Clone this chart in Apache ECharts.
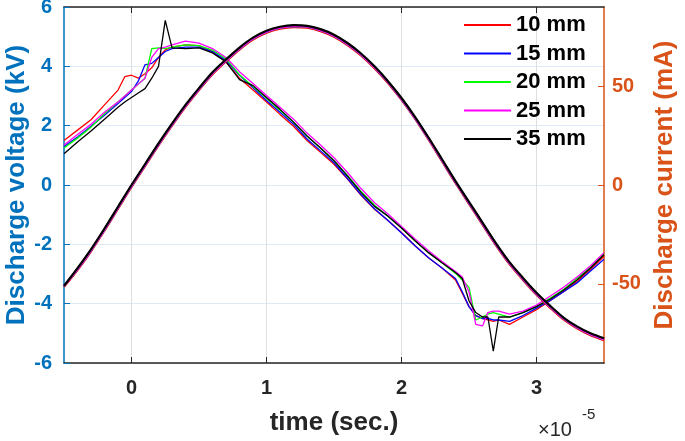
<!DOCTYPE html>
<html>
<head>
<meta charset="utf-8">
<title>Discharge voltage and current</title>
<script src="https://cdn.jsdelivr.net/npm/echarts@6.0.0/dist/echarts.min.js"></script>
<style>
  html, body { margin: 0; padding: 0; background: #fff; }
  #main { width: 685px; height: 441px; }
</style>
</head>
<body>
<div id="main"></div>
<script>
// electrode gaps (legend) and their colours
const gaps = ['10 mm', '15 mm', '20 mm', '25 mm', '35 mm'];
const colors = ['#ff0000', '#0000ff', '#00ff00', '#ff00ff', '#000000'];

// x tick labels (time in units of 1e-5 s)
const xTicks = [0, 1, 2, 3];
const currentTicks = [-50, 0, 50];

// voltage samples (kV)
const tV = [-0.5, -0.4, -0.3, -0.2, -0.1, -0.05, 0, 0.05, 0.1, 0.15, 0.2, 0.25, 0.3, 0.4, 0.5,
  0.6, 0.7, 0.8, 0.9, 1.0, 1.1, 1.2, 1.3, 1.4, 1.5, 1.6, 1.7, 1.8, 1.9, 2.0,
  2.1, 2.2, 2.3, 2.4, 2.45, 2.5, 2.55, 2.6, 2.64, 2.68, 2.72, 2.8, 2.9, 3.0, 3.1,
  3.2, 3.3, 3.4, 3.5];
const v10 = [1.5, 1.85, 2.2, 2.7, 3.2, 3.65, 3.7, 3.6, 3.75, 3.95, 4.3, 4.55, 4.65, 4.72, 4.7,
  4.5, 4.15, 3.6, 3.2, 2.8, 2.38, 1.98, 1.5, 1.1, 0.7, 0.2, -0.35, -0.82, -1.2, -1.6,
  -2.05, -2.45, -2.8, -3.2, -3.65, -4.1, -4.4, -4.5, -4.55, -4.6, -4.55, -4.7, -4.45, -4.2, -3.9,
  -3.6, -3.25, -2.85, -2.4];
const v15 = [1.3, 1.62, 1.98, 2.35, 2.75, 2.95, 3.15, 3.5, 4.05, 4.1, 4.3, 4.5, 4.6, 4.65, 4.65,
  4.5, 4.2, 3.7, 3.28, 2.85, 2.45, 2.05, 1.55, 1.15, 0.75, 0.22, -0.32, -0.8, -1.2, -1.62,
  -2.05, -2.45, -2.8, -3.15, -3.6, -4.1, -4.4, -4.5, -4.5, -4.55, -4.55, -4.6, -4.4, -4.15, -3.9,
  -3.6, -3.3, -2.9, -2.5];
const v20 = [1.25, 1.58, 1.95, 2.4, 2.8, 3.0, 3.2, 3.4, 3.6, 4.6, 4.62, 4.6, 4.65, 4.72, 4.7,
  4.55, 4.25, 3.72, 3.32, 2.92, 2.52, 2.12, 1.65, 1.25, 0.82, 0.32, -0.22, -0.68, -1.05, -1.45,
  -1.88, -2.28, -2.62, -2.98, -3.2, -3.45, -4.55, -4.45, -4.35, -4.3, -4.35, -4.45, -4.3, -4.1, -3.82,
  -3.52, -3.15, -2.78, -2.3];
const v25 = [1.35, 1.7, 2.05, 2.45, 2.8, 3.0, 3.2, 3.4, 3.6, 4.3, 4.6, 4.65, 4.72, 4.85, 4.78,
  4.6, 4.3, 3.82, 3.42, 3.02, 2.62, 2.22, 1.75, 1.35, 0.92, 0.42, -0.12, -0.6, -0.98, -1.4,
  -1.82, -2.22, -2.58, -2.92, -3.1, -3.6, -4.7, -4.75, -4.3, -4.25, -4.25, -4.35, -4.25, -4.05, -3.75,
  -3.45, -3.1, -2.72, -2.28];
const v35 = [1.05, 1.45, 1.82, 2.22, 2.62, 2.8, 2.95, 3.1, 3.25, 3.6, 4.0, 5.55, 4.62, 4.6, 4.62,
  4.45, 4.15, 3.55, 3.35, 2.95, 2.55, 2.12, 1.65, 1.25, 0.82, 0.3, -0.25, -0.72, -1.05, -1.45,
  -1.88, -2.28, -2.62, -2.95, -3.15, -3.9, -4.3, -4.45, -4.45, -5.6, -4.45, -4.45, -4.3, -4.1, -3.85,
  -3.55, -3.2, -2.8, -2.35];

// current samples (mA)
const tI = [-0.5, -0.4, -0.3, -0.2, -0.1, 0, 0.1, 0.2, 0.3, 0.4, 0.5, 0.6, 0.7, 0.8, 0.9, 1.0,
  1.1, 1.2, 1.3, 1.4, 1.5, 1.6, 1.7, 1.8, 1.9, 2.0, 2.1, 2.2, 2.3, 2.4, 2.5,
  2.6, 2.7, 2.8, 2.9, 3.0, 3.1, 3.2, 3.3, 3.4, 3.5];
const iMid = [-51, -42.5, -33, -22.5, -11.5, -0.5, 10, 20.5, 30.5, 40, 48.5, 56.5, 63, 69, 74, 77.5,
  79.5, 80.3, 80, 78.3, 75.5, 71.3, 66, 59.5, 52, 43.5, 34, 23.5, 12.5, 1.5, -9,
  -19.5, -30, -39.5, -47.5, -55, -61.5, -67.5, -72, -75.5, -78];
const i10 = [-51.5, -43, -33.5, -23, -12, -1, 9.5, 20, 30, 39.5, 48, 56, 62.5, 68.5, 73.5, 77,
  79, 79.8, 79.5, 77.8, 75, 70.8, 65.5, 59, 51.5, 43, 33.5, 23, 12, 1, -9.5,
  -20, -30.5, -40, -48, -55.5, -62, -68, -72.5, -76, -78.5];
const i35 = [-51, -42, -32.5, -22, -11, 0, 10.5, 21, 31, 40.5, 49, 57, 63.5, 69.5, 74.5, 78,
  80, 80.8, 80.5, 78.8, 76, 71.8, 66.5, 60, 52.5, 44, 34.5, 24, 13, 2, -8.5,
  -19, -29.5, -39, -47, -54.5, -61, -67, -71.5, -75, -77.5];

const voltages = [v10, v15, v20, v25, v35];
const currents = [i10, iMid, iMid, iMid, i35];

const FONT = '"Liberation Sans", Arial, sans-serif';
const BLUE = '#0072BD';
const ORANGE = '#D95319';
const DARK = '#262626';

const series = [];
voltages.forEach((v, k) => {
  series.push({
    name: gaps[k],
    type: 'line',
    xAxisIndex: 0,
    yAxisIndex: 0,
    symbol: 'none',
    data: tV.map((t, j) => [t, v[j]]),
    lineStyle: { color: colors[k], width: 1.3 },
    itemStyle: { color: colors[k] }
  });
});
currents.forEach((c, k) => {
  series.push({
    name: gaps[k],
    type: 'line',
    xAxisIndex: 0,
    yAxisIndex: 1,
    symbol: 'none',
    smooth: 0.3,
    data: tI.map((t, j) => [t, c[j]]),
    lineStyle: { color: colors[k], width: 2.2 },
    itemStyle: { color: colors[k] }
  });
});

const chart = echarts.init(document.getElementById('main'));
const option = {
  animation: false,
  textStyle: { fontFamily: FONT },
  grid: { left: 64, right: 81, top: 7, bottom: 78, outerBoundsMode: 'none' },
  legend: {
    data: gaps,
    orient: 'vertical',
    left: 459,
    top: 9,
    icon: 'rect',
    itemWidth: 47,
    itemHeight: 2,
    itemGap: 6.5,
    textStyle: { fontSize: 22, fontWeight: 'bold', color: '#000', fontFamily: FONT }
  },
  xAxis: [
    {
      type: 'value',
      min: -0.5,
      max: 3.5,
      position: 'bottom',
      axisLine: { show: true, onZero: false, lineStyle: { color: DARK, width: 1.5 } },
      axisTick: { show: true, inside: true, length: 6, customValues: xTicks, lineStyle: { color: DARK } },
      axisLabel: { customValues: xTicks, color: DARK, fontSize: 20, fontWeight: 'bold', margin: 15 },
      splitLine: { show: true, lineStyle: { color: '#dfdfdf', width: 1 } },
      name: 'time (sec.)',
      nameLocation: 'middle',
      nameGap: 47,
      nameTextStyle: { color: DARK, fontSize: 26, fontWeight: 'bold', fontFamily: FONT }
    },
    {
      type: 'value',
      min: -0.5,
      max: 3.5,
      position: 'top',
      axisLine: { show: true, onZero: false, lineStyle: { color: DARK, width: 1.5 } },
      axisTick: { show: true, inside: true, length: 6, customValues: xTicks, lineStyle: { color: DARK } },
      axisLabel: { show: false },
      splitLine: { show: false }
    }
  ],
  yAxis: [
    {
      type: 'value',
      min: -6,
      max: 6,
      interval: 2,
      position: 'left',
      axisLine: { show: true, onZero: false, lineStyle: { color: BLUE, width: 1.5 } },
      axisTick: { show: true, inside: true, length: 6, lineStyle: { color: BLUE } },
      axisLabel: { color: BLUE, fontSize: 20, fontWeight: 'bold', margin: 12 },
      splitLine: { show: true, lineStyle: { color: '#deebf6', width: 1 } },
      name: 'Discharge voltage (kV)',
      nameLocation: 'middle',
      nameRotate: 90,
      nameGap: 34,
      nameMoveOverlap: false,
      nameTextStyle: { color: BLUE, fontSize: 26, fontWeight: 'bold', fontFamily: FONT }
    },
    {
      type: 'value',
      min: -90,
      max: 90,
      position: 'right',
      axisLine: { show: true, onZero: false, lineStyle: { color: ORANGE, width: 1.5 } },
      axisTick: { show: true, inside: true, length: 6, customValues: currentTicks, lineStyle: { color: ORANGE } },
      axisLabel: { customValues: currentTicks, color: ORANGE, fontSize: 20, fontWeight: 'bold', margin: 8 },
      splitLine: { show: false },
      name: 'Discharge current (mA)',
      nameLocation: 'middle',
      nameRotate: 90,
      nameGap: 46,
      nameTextStyle: { color: ORANGE, fontSize: 26, fontWeight: 'bold', fontFamily: FONT }
    }
  ],
  graphic: [
    { type: 'text', left: 538, top: 420, style: { text: '×10', fontSize: 20, fontFamily: FONT, fill: DARK } },
    { type: 'text', left: 582, top: 407, style: { text: '-5', fontSize: 15, fontFamily: FONT, fill: DARK } }
  ],
  series: series
};
chart.setOption(option);
</script>
</body>
</html>
